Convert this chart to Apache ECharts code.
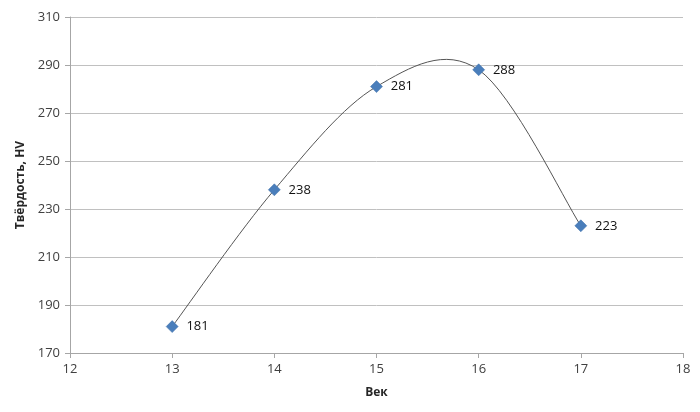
<!DOCTYPE html>
<html><head><meta charset="utf-8">
<script src="https://cdn.jsdelivr.net/npm/echarts@6/dist/echarts.min.js"></script>
<style>html,body{margin:0;padding:0;background:#fff}#c{width:700px;height:412px}</style>
</head><body><div id="c"></div>
<script>
const centuries = [13, 14, 15, 16, 17];
const hardness = [181, 238, 281, 288, 223];
const xTitle = 'Век';
const yTitle = 'Твёрдость, HV';

const chart = echarts.init(document.getElementById('c'), null, {renderer: 'canvas'});
const font = '"Open Sans", "Liberation Sans", sans-serif';
const pts = centuries.map((c, i) => [c, hardness[i]]);

// Catmull-Rom style smooth curve (as in Excel smoothed scatter), one segment per data item
function renderSegment(params, api) {
  const i = params.dataIndex;
  const P = pts.map(p => api.coord(p));
  const n = P.length;
  const p0 = P[Math.max(i - 1, 0)], p1 = P[i], p2 = P[i + 1], p3 = P[Math.min(i + 2, n - 1)];
  const k = 1 / 6;
  const c1 = [p1[0] + (p2[0] - p0[0]) * k, p1[1] + (p2[1] - p0[1]) * k];
  const c2 = [p2[0] - (p3[0] - p1[0]) * k, p2[1] - (p3[1] - p1[1]) * k];
  return {
    type: 'bezierCurve',
    shape: {x1: p1[0], y1: p1[1], x2: p2[0], y2: p2[1], cpx1: c1[0], cpy1: c1[1], cpx2: c2[0], cpy2: c2[1]},
    style: {stroke: '#555', lineWidth: 1, fill: null}
  };
}

chart.setOption({
  animation: false,
  backgroundColor: '#fff',
  grid: {left: 70, right: 17, top: 17, bottom: 59},
  xAxis: {
    type: 'value', min: 12, max: 18, interval: 1,
    name: xTitle, nameLocation: 'middle', nameGap: 34,
    nameTextStyle: {fontFamily: font, fontWeight: 'bold', fontSize: 12, color: '#262626'},
    axisLine: {show: true, lineStyle: {color: '#a6a6a6'}},
    axisTick: {show: true, length: 5, lineStyle: {color: '#a6a6a6'}},
    axisLabel: {fontFamily: font, fontSize: 13, color: '#404040', margin: 10},
    splitLine: {show: false}
  },
  yAxis: {
    type: 'value', min: 170, max: 310, interval: 20,
    name: yTitle, nameLocation: 'middle', nameGap: 40, nameRotate: 90,
    nameTextStyle: {fontFamily: font, fontWeight: 'bold', fontSize: 12, color: '#262626'},
    axisLine: {show: true, lineStyle: {color: '#a6a6a6'}},
    axisTick: {show: true, length: 5, lineStyle: {color: '#a6a6a6'}},
    axisLabel: {fontFamily: font, fontSize: 13, color: '#404040', margin: 10},
    splitLine: {show: true, lineStyle: {color: '#c0c0c0', width: 1}}
  },
  series: [{
    type: 'custom',
    data: pts.slice(0, -1),
    renderItem: renderSegment,
    z: 2,
    silent: true
  }, {
    type: 'scatter',
    data: pts,
    z: 3,
    symbol: 'diamond', symbolSize: 12,
    itemStyle: {color: '#4a7ebb', borderColor: '#3d6ea8', borderWidth: 0.5, opacity: 1},
    label: {show: true, position: 'right', distance: 8, fontFamily: font, fontSize: 13, color: '#111',
      formatter: p => p.value[1]}
  }]
});
</script></body></html>
